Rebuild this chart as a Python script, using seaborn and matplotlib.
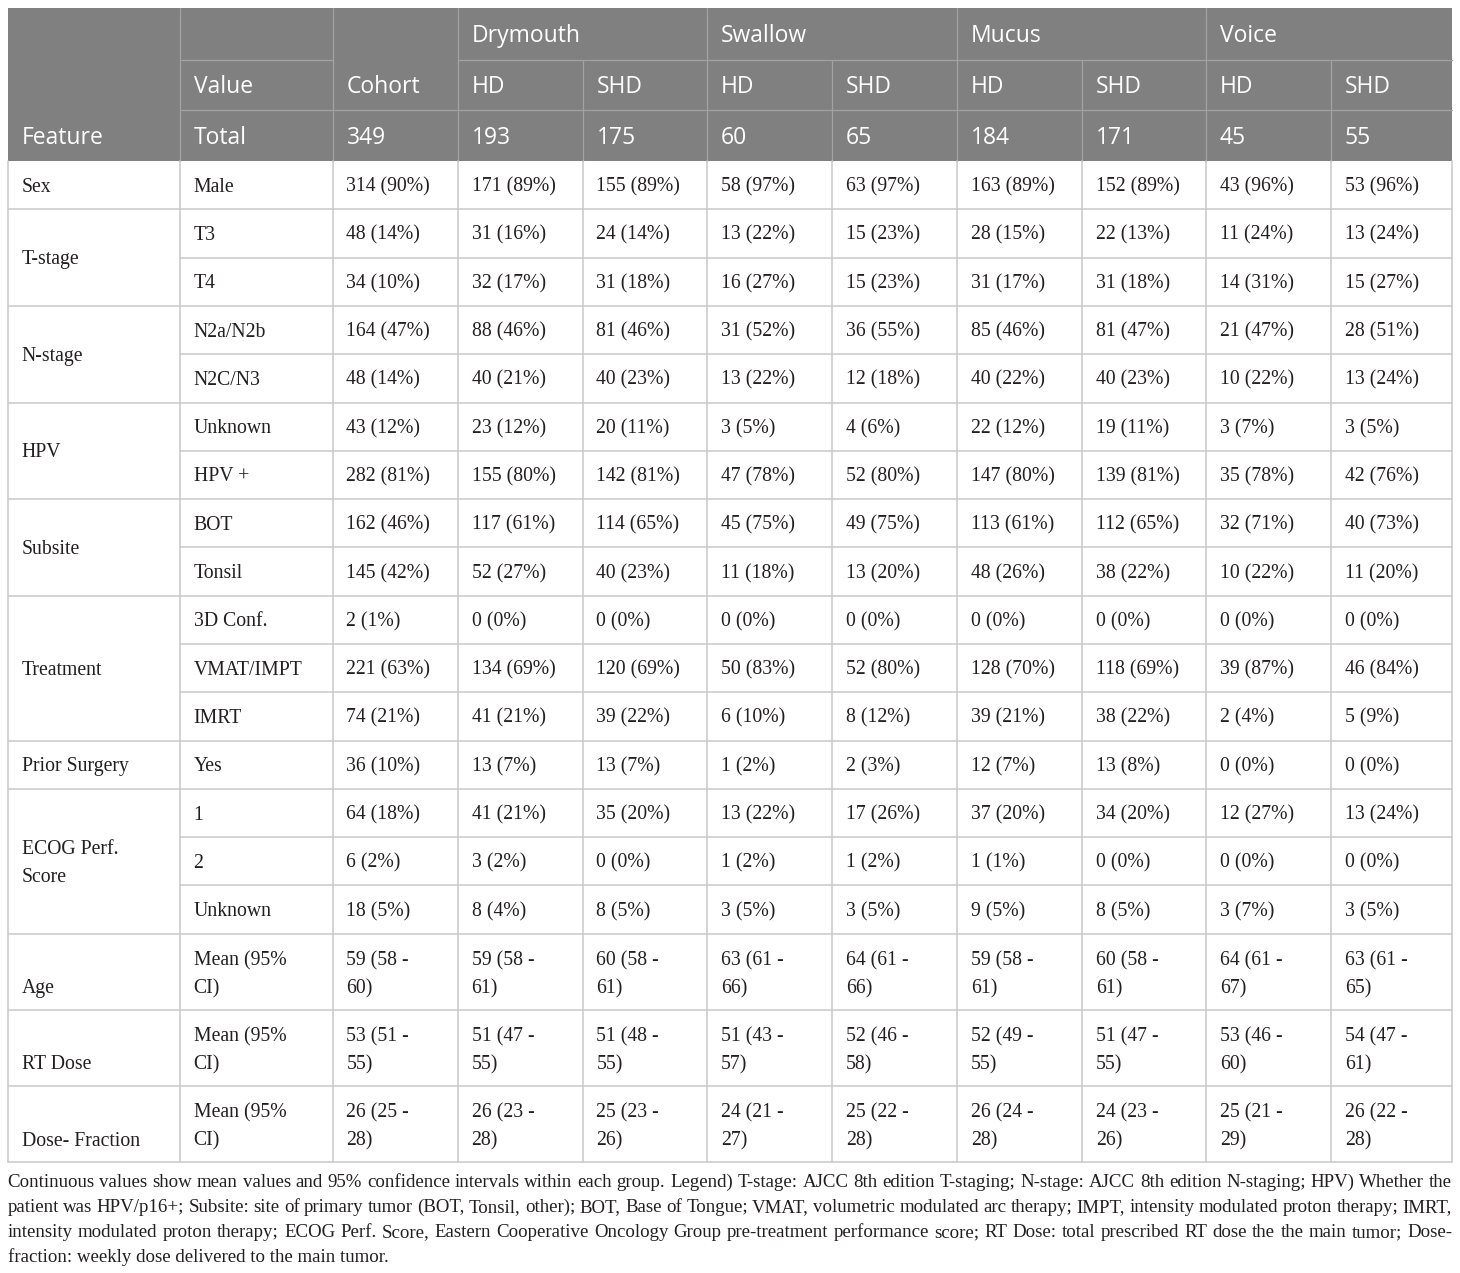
import matplotlib
matplotlib.use("Agg")
import matplotlib.pyplot as plt
import seaborn as sns

# Table content
groups = ["Drymouth", "Swallow", "Mucus", "Voice"]
sub_cols = ["HD", "SHD"]
totals = [349, 193, 175, 60, 65, 184, 171, 45, 55]

# counts and percentages per value row (Cohort, Drymouth HD/SHD, Swallow HD/SHD, Mucus HD/SHD, Voice HD/SHD)
male_n = [314, 171, 155, 58, 63, 163, 152, 43, 53]
male_pct = [90, 89, 89, 97, 97, 89, 89, 96, 96]
t3_n = [48, 31, 24, 13, 15, 28, 22, 11, 13]
t3_pct = [14, 16, 14, 22, 23, 15, 13, 24, 24]
t4_n = [34, 32, 31, 16, 15, 31, 31, 14, 15]
t4_pct = [10, 17, 18, 27, 23, 17, 18, 31, 27]
n2ab_n = [164, 88, 81, 31, 36, 85, 81, 21, 28]
n2ab_pct = [47, 46, 46, 52, 55, 46, 47, 47, 51]
n2c_n = [48, 40, 40, 13, 12, 40, 40, 10, 13]
n2c_pct = [14, 21, 23, 22, 18, 22, 23, 22, 24]
hpv_unk_n = [43, 23, 20, 3, 4, 22, 19, 3, 3]
hpv_unk_pct = [12, 12, 11, 5, 6, 12, 11, 7, 5]
hpv_pos_n = [282, 155, 142, 47, 52, 147, 139, 35, 42]
hpv_pos_pct = [81, 80, 81, 78, 80, 80, 81, 78, 76]
bot_n = [162, 117, 114, 45, 49, 113, 112, 32, 40]
bot_pct = [46, 61, 65, 75, 75, 61, 65, 71, 73]
tonsil_n = [145, 52, 40, 11, 13, 48, 38, 10, 11]
tonsil_pct = [42, 27, 23, 18, 20, 26, 22, 22, 20]
conf3d_n = [2, 0, 0, 0, 0, 0, 0, 0, 0]
conf3d_pct = [1, 0, 0, 0, 0, 0, 0, 0, 0]
vmat_n = [221, 134, 120, 50, 52, 128, 118, 39, 46]
vmat_pct = [63, 69, 69, 83, 80, 70, 69, 87, 84]
imrt_n = [74, 41, 39, 6, 8, 39, 38, 2, 5]
imrt_pct = [21, 21, 22, 10, 12, 21, 22, 4, 9]
surgery_n = [36, 13, 13, 1, 2, 12, 13, 0, 0]
surgery_pct = [10, 7, 7, 2, 3, 7, 8, 0, 0]
ecog1_n = [64, 41, 35, 13, 17, 37, 34, 12, 13]
ecog1_pct = [18, 21, 20, 22, 26, 20, 20, 27, 24]
ecog2_n = [6, 3, 0, 1, 1, 1, 0, 0, 0]
ecog2_pct = [2, 2, 0, 2, 2, 1, 0, 0, 0]
ecog_unk_n = [18, 8, 8, 3, 3, 9, 8, 3, 3]
ecog_unk_pct = [5, 4, 5, 5, 5, 5, 5, 7, 5]

# continuous values: mean, lower, upper of 95% CI
age_mean = [59, 59, 60, 63, 64, 59, 60, 64, 63]
age_lo = [58, 58, 58, 61, 61, 58, 58, 61, 61]
age_hi = [60, 61, 61, 66, 66, 61, 61, 67, 65]
dose_mean = [53, 51, 51, 51, 52, 52, 51, 53, 54]
dose_lo = [51, 47, 48, 43, 46, 49, 47, 46, 47]
dose_hi = [55, 55, 55, 57, 58, 55, 55, 60, 61]
frac_mean = [26, 26, 25, 24, 25, 26, 24, 25, 26]
frac_lo = [25, 23, 23, 21, 22, 24, 23, 21, 22]
frac_hi = [28, 28, 26, 27, 28, 28, 26, 29, 28]

caption_lines = [
    "Continuous values show mean values and 95% confidence intervals within each group. Legend) T-stage: AJCC 8th edition T-staging; N-stage: AJCC 8th edition N-staging; HPV) Whether the",
    "patient was HPV/p16+; Subsite: site of primary tumor (BOT, Tonsil, other); BOT, Base of Tongue; VMAT, volumetric modulated arc therapy; IMPT, intensity modulated proton therapy; IMRT,",
    "intensity modulated proton therapy; ECOG Perf. Score, Eastern Cooperative Oncology Group pre-treatment performance score; RT Dose: total prescribed RT dose the the main tumor; Dose-",
    "fraction: weekly dose delivered to the main tumor.",
]


def counts(n, pct):
    return [f"{a} ({b}%)" for a, b in zip(n, pct)]


def cis(m, lo, hi):
    return [f"{a} ({b} -\n{c})" for a, b, c in zip(m, lo, hi)]


# (feature, [(value label, cells), ...])
features = [
    ("Sex", [("Male", counts(male_n, male_pct))]),
    ("T-stage", [("T3", counts(t3_n, t3_pct)), ("T4", counts(t4_n, t4_pct))]),
    ("N-stage", [("N2a/N2b", counts(n2ab_n, n2ab_pct)), ("N2C/N3", counts(n2c_n, n2c_pct))]),
    ("HPV", [("Unknown", counts(hpv_unk_n, hpv_unk_pct)), ("HPV +", counts(hpv_pos_n, hpv_pos_pct))]),
    ("Subsite", [("BOT", counts(bot_n, bot_pct)), ("Tonsil", counts(tonsil_n, tonsil_pct))]),
    ("Treatment", [("3D Conf.", counts(conf3d_n, conf3d_pct)), ("VMAT/IMPT", counts(vmat_n, vmat_pct)),
                   ("IMRT", counts(imrt_n, imrt_pct))]),
    ("Prior Surgery", [("Yes", counts(surgery_n, surgery_pct))]),
    ("ECOG Perf.\nScore", [("1", counts(ecog1_n, ecog1_pct)), ("2", counts(ecog2_n, ecog2_pct)),
                           ("Unknown", counts(ecog_unk_n, ecog_unk_pct))]),
    ("Age", [("Mean (95%\nCI)", cis(age_mean, age_lo, age_hi))]),
    ("RT Dose", [("Mean (95%\nCI)", cis(dose_mean, dose_lo, dose_hi))]),
    ("Dose- Fraction", [("Mean (95%\nCI)", cis(frac_mean, frac_lo, frac_hi))]),
]

# Style
sns.set_theme(style="white")
header_font = "Open Sans"
body_font = "Liberation Serif"
plt.rcParams["font.family"] = [body_font, "DejaVu Sans"]
header_bg = "#808080"
header_line = "#a3a3a3"
grid_color = "#c9c9c9"
text_color = "#231f20"

W, H = 1460, 1273
fig = plt.figure(figsize=(W / 100, H / 100), dpi=100)
ax = fig.add_axes([0, 0, 1, 1])
ax.set_xlim(0, W)
ax.set_ylim(H, 0)
ax.axis("off")

col_x = [7.5, 179.5, 332.5, 457.5, 582.5, 707, 832, 957, 1081.7, 1206, 1331, 1452]
hdr_y = [7.5, 60, 109.5, 161]
pad = 14
single_h = 48.3
double_h = 76.1
hs = 16.5  # header font size
bs = 14.2  # body font size

# Header block
ax.add_patch(plt.Rectangle((col_x[0], hdr_y[0]), col_x[-1] - col_x[0], hdr_y[3] - hdr_y[0],
                           facecolor=header_bg, edgecolor="none", zorder=1))
for i, x in enumerate(col_x[1:-1], start=1):
    top = hdr_y[0] if i < 4 or (i - 3) % 2 == 0 else hdr_y[1]
    ax.plot([x, x], [top, hdr_y[3]], color=header_line, lw=0.9, zorder=2)
ax.plot([col_x[1], col_x[2]], [hdr_y[1]] * 2, color=header_line, lw=0.9, zorder=2)
ax.plot([col_x[3], col_x[-1]], [hdr_y[1]] * 2, color=header_line, lw=0.9, zorder=2)
ax.plot([col_x[1], col_x[-1]], [hdr_y[2]] * 2, color=header_line, lw=0.9, zorder=2)


def htext(x, y, s):
    ax.text(x + pad, y, s, color="white", fontsize=hs, family=header_font, va="baseline", ha="left", zorder=3)


def row_base(y0, y1):
    return (y0 + y1) / 2 + 8.6


htext(col_x[0], row_base(hdr_y[2], hdr_y[3]), "Feature")
htext(col_x[1], row_base(hdr_y[1], hdr_y[2]), "Value")
htext(col_x[1], row_base(hdr_y[2], hdr_y[3]), "Total")
htext(col_x[2], row_base(hdr_y[1], hdr_y[2]), "Cohort")
for g, name in enumerate(groups):
    htext(col_x[3 + 2 * g], row_base(hdr_y[0], hdr_y[1]), name)
    for k, sub in enumerate(sub_cols):
        htext(col_x[3 + 2 * g + k], row_base(hdr_y[1], hdr_y[2]), sub)
for j, t in enumerate(totals):
    htext(col_x[2 + j], row_base(hdr_y[2], hdr_y[3]), str(t))


def btext(x, y, s):
    ax.text(x + pad, y, s, color=text_color, fontsize=bs, family=body_font, va="baseline", ha="left", zorder=3)


def cell(x, y0, y1, s):
    c = (y0 + y1) / 2
    lines = s.split("\n")
    if len(lines) == 1:
        btext(x, c + 6.5, s)
    else:
        for k, ln in enumerate(lines):
            btext(x, c + (k - 0.5) * 28 + 7.5, ln)


# Body
y = hdr_y[3]
for fname, rows in features:
    ystart = y
    two_line = any("\n" in v for v, _ in rows)
    h = double_h if two_line else single_h
    for r, (vlabel, cells) in enumerate(rows):
        y0, y1 = y, y + h
        if r > 0:
            ax.plot([col_x[1], col_x[-1]], [y0, y0], color=grid_color, lw=1.1, zorder=2)
        cell(col_x[1], y0, y1, vlabel)
        for j, s in enumerate(cells):
            cell(col_x[2 + j], y0, y1, s)
        y = y1
    ax.plot([col_x[0], col_x[-1]], [y, y], color=grid_color, lw=1.1, zorder=2)
    if "\n" in fname:
        c = (ystart + y) / 2
        for k, ln in enumerate(fname.split("\n")):
            btext(col_x[0], c + (k - 0.5) * 28 + 6.5, ln)
    elif two_line:
        btext(col_x[0], (ystart + y) / 2 + 14 + 7.5, fname)
    else:
        btext(col_x[0], (ystart + y) / 2 + 6.5, fname)
body_bottom = y
for x in col_x:
    ax.plot([x, x], [hdr_y[3], body_bottom], color=grid_color, lw=1.1, zorder=2)

# Caption, justified like the source; one font size for all lines
fig.canvas.draw()
renderer = fig.canvas.get_renderer()
cap_base = body_bottom + 25
left, right = col_x[0], col_x[-1]


def word_widths(words, size):
    out = []
    for w in words:
        t = ax.text(0, 0, w, fontsize=size, family=body_font)
        out.append(t.get_window_extent(renderer).width)
        t.remove()
    return out


cap_size = 13.6
while cap_size > 10:
    ok = True
    for line in caption_lines[:-1]:
        words = line.split(" ")
        if right - left - sum(word_widths(words, cap_size)) < 2.5 * (len(words) - 1):
            ok = False
            break
    if ok:
        break
    cap_size -= 0.1

for i, line in enumerate(caption_lines):
    yy = cap_base + i * 25
    if i == len(caption_lines) - 1:
        ax.text(left, yy, line, fontsize=cap_size, family=body_font, color=text_color, va="baseline")
        continue
    words = line.split(" ")
    widths = word_widths(words, cap_size)
    gap = (right - left - sum(widths)) / (len(words) - 1)
    xx = left
    for w, wd in zip(words, widths):
        ax.text(xx, yy, w, fontsize=cap_size, family=body_font, color=text_color, va="baseline")
        xx += wd + gap

fig.savefig("out.png", dpi=100)
